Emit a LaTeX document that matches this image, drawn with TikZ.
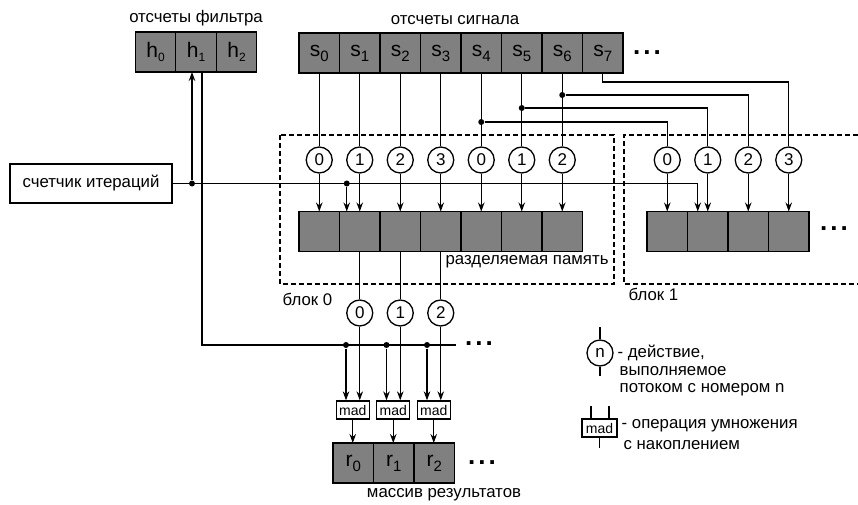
\documentclass[tikz,border=0pt]{standalone}
\usepackage{fontspec}
\setmainfont{Liberation Sans}
\usepackage{tikz}
\usetikzlibrary{arrows.meta,positioning,calc}

\newcommand{\sidx}[2]{#1\raisebox{-5pt}{\fontsize{15}{15}\selectfont #2}}
\newcommand{\hidx}[2]{#1\raisebox{-4pt}{\fontsize{12}{12}\selectfont #2}}

\begin{document}
\begin{tikzpicture}[x=1pt, y=-1pt, line width=1.3pt,
    cell/.style={draw, fill=black!50, minimum width=40.5pt, minimum height=40pt, inner sep=0pt, outer sep=0pt, font=\fontsize{21}{21}\selectfont},
    thr/.style={draw, circle, fill=white, minimum size=26pt, inner sep=0pt, font=\fontsize{17}{17}\selectfont},
    madbox/.style={draw, fill=white, minimum width=33pt, minimum height=18pt, inner sep=0pt, font=\fontsize{14}{14}\selectfont},
    txt/.style={inner sep=0pt, font=\fontsize{16.8}{16.8}\selectfont},
    more/.style={inner sep=0pt, font=\fontsize{26}{26}\selectfont\bfseries},
    frame/.style={dash pattern=on 5pt off 3pt},
    arr/.style={-{Stealth[length=9pt, width=6.5pt]}},
    dot/.style={circle, fill, inner sep=0pt, minimum size=6pt}
]
\useasboundingbox (0,0) rectangle (858,505);

% filter and signal samples
\node[txt] (hcap) at (196,18) {отсчеты фильтра};
\node[cell] (h0) at (155.5,52) {\hidx{h}{0}};
\node[cell] (h1) at (196,52) {\hidx{h}{1}};
\node[cell] (h2) at (236.5,52) {\hidx{h}{2}};

\node[txt] (scap) at (455,20) {отсчеты сигнала};
\node[cell] (s0) at (319.25,53) {\sidx{s}{0}};
\node[cell] (s1) at (359.75,53) {\sidx{s}{1}};
\node[cell] (s2) at (400.25,53) {\sidx{s}{2}};
\node[cell] (s3) at (440.75,53) {\sidx{s}{3}};
\node[cell] (s4) at (481.25,53) {\sidx{s}{4}};
\node[cell] (s5) at (521.75,53) {\sidx{s}{5}};
\node[cell] (s6) at (562.25,53) {\sidx{s}{6}};
\node[cell] (s7) at (602.75,53) {\sidx{s}{7}};
\node[more] (sdots) at (647,53) {.\kern3pt.\kern3pt.};

% block 0
\draw[frame] (280,135) rectangle (614,284);
\node[txt, anchor=west] (blk0) at (282,299) {блок 0};
\node[thr] (c0) at (319.25,160) {0};
\node[thr] (c1) at (359.75,160) {1};
\node[thr] (c2) at (400.25,160) {2};
\node[thr] (c3) at (440.75,160) {3};
\node[thr] (c4) at (481.25,160) {0};
\node[thr] (c5) at (521.75,160) {1};
\node[thr] (c6) at (562.25,160) {2};
\node[cell] (m0) at (319.25,231.5) {};
\node[cell] (m1) at (359.75,231.5) {};
\node[cell] (m2) at (400.25,231.5) {};
\node[cell] (m3) at (440.75,231.5) {};
\node[cell] (m4) at (481.25,231.5) {};
\node[cell] (m5) at (521.75,231.5) {};
\node[cell] (m6) at (562.25,231.5) {};
\node[txt, anchor=west] (shm) at (445,262) {разделяемая память};

% block 1
\draw[frame] (858,135) -- (624,135) -- (624,284) -- (858,284);
\node[txt, anchor=west] (blk1) at (628,294) {блок 1};
\node[thr] (b0) at (667.25,160) {0};
\node[thr] (b1) at (707.75,160) {1};
\node[thr] (b2) at (748.25,160) {2};
\node[thr] (b3) at (788.75,160) {3};
\node[cell] (n0) at (667.25,231.5) {};
\node[cell] (n1) at (707.75,231.5) {};
\node[cell] (n2) at (748.25,231.5) {};
\node[cell] (n3) at (788.75,231.5) {};
\node[more] (ndots) at (834,229) {.\kern3pt.\kern3pt.};

% signal -> threads -> shared memory
\draw (s0) -- (c0);
\draw (s1) -- (c1);
\draw (s2) -- (c2);
\draw (s3) -- (c3);
\draw (s4) -- (c4);
\draw (s5) -- (c5);
\draw (s6) -- (c6);
\node[dot] (d4) at (481.25,122) {};
\node[dot] (d5) at (521.75,108) {};
\node[dot] (d6) at (562.25,95) {};
\draw (d4) -| (b0);
\draw (d5) -| (b1);
\draw (d6) -| (b2);
\draw (s7.south) -- ++(0,9) -| (b3);
\draw[arr] (c0) -- (m0);
\draw[arr] (c1) -- (m1);
\draw[arr] (c2) -- (m2);
\draw[arr] (c3) -- (m3);
\draw[arr] (c4) -- (m4);
\draw[arr] (c5) -- (m5);
\draw[arr] (c6) -- (m6);
\draw[arr] (b0) -- (n0);
\draw[arr] (b1) -- (n1);
\draw[arr] (b2) -- (n2);
\draw[arr] (b3) -- (n3);

% iteration counter
\node[txt, draw, minimum width=162pt, minimum height=39pt] (cnt) at (91,183.5) {счетчик итераций};
\draw[arr] (cnt.east) -| ([xshift=-10pt]n1.north);
\node[dot] (j0) at (192,183.5) {};
\draw[arr] (j0) -- ([xshift=-4pt]h1.south);
\node[dot] (j1) at (346.75,183.5) {};
\draw[arr] (j1) -- ([xshift=-13pt]m1.north);

% multiply-accumulate
\coordinate (busend) at (456,345);
\draw ([xshift=6pt]h1.south) |- (busend);
\node[more] (bdots) at (479,344) {.\kern3pt.\kern3pt.};
\node[thr] (t0) at (359.75,313) {0};
\node[thr] (t1) at (400.25,313) {1};
\node[thr] (t2) at (440.75,313) {2};
\draw (m1) -- (t0);
\draw (m2) -- (t1);
\draw (m3) -- (t2);
\node[madbox] (a0) at (352.75,410) {mad};
\node[madbox] (a1) at (393.25,410) {mad};
\node[madbox] (a2) at (433.75,410) {mad};
\node[dot] (k0) at (346,345) {};
\node[dot] (k1) at (386.5,345) {};
\node[dot] (k2) at (427,345) {};
\draw[arr] (k0) -- (k0 |- a0.north);
\draw[arr] (k1) -- (k1 |- a1.north);
\draw[arr] (k2) -- (k2 |- a2.north);
\draw[arr] (t0) -- (t0 |- a0.north);
\draw[arr] (t1) -- (t1 |- a1.north);
\draw[arr] (t2) -- (t2 |- a2.north);
\node[cell] (r0) at (353.25,463) {\sidx{r}{0}};
\node[cell] (r1) at (393.75,463) {\sidx{r}{1}};
\node[cell] (r2) at (434.25,463) {\sidx{r}{2}};
\node[more] (rdots) at (482,463) {.\kern3pt.\kern3pt.};
\node[txt] (rcap) at (444,495) {массив результатов};
\draw[arr] (a0.south) -- (a0.south |- r0.north);
\draw[arr] (a1.south) -- (a1.south |- r1.north);
\draw[arr] (a2.south) -- (a2.south |- r2.north);

% legend
\node[thr] (lgc) at (600,353) {n};
\draw (lgc.north) -- ++(0,-12);
\draw (lgc.south) -- ++(0,9);
\node[txt, anchor=west] (lgt1) at (617,353) {- действие,};
\node[txt, anchor=west] (lgt2) at (619,371) {выполняемое};
\node[txt, anchor=west] (lgt3) at (619,390) {потоком с номером n};
\node[madbox, minimum width=35pt] (lgm) at (599.5,428) {mad};
\draw ([xshift=-8.5pt]lgm.north) -- ++(0,-12);
\draw ([xshift=9.5pt]lgm.north) -- ++(0,-12);
\draw (lgm.south) -- ++(0,10);
\node[txt, anchor=west] (lgt4) at (621,426) {- операция умножения};
\node[txt, anchor=west] (lgt5) at (623,445) {с накоплением};
\end{tikzpicture}
\end{document}
